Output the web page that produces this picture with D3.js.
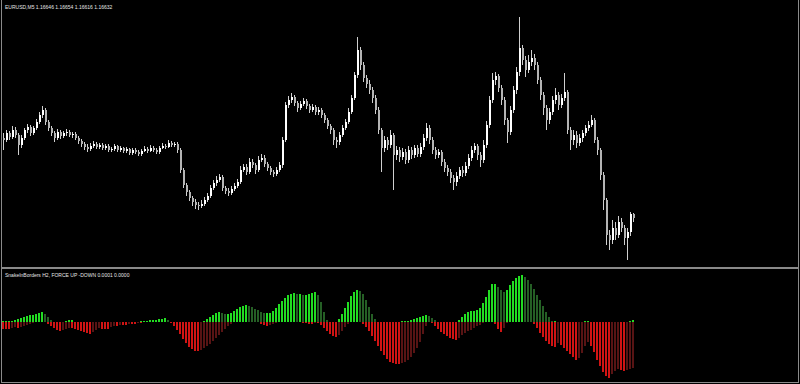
<!DOCTYPE html>
<html>
<head>
<meta charset="utf-8">
<script src="https://cdn.jsdelivr.net/npm/d3@7"></script>
<style>
  body { margin: 0; background: #000; }
</style>
</head>
<body>
<div id="chart"></div>
<script>
const symbolLabel = "EURUSD,M5  1.16646 1.16654 1.16616 1.16632";
const indicatorLabel = "SnakeInBorders H2, FORCE UP -DOWN  0.0001 0.0000";

// quotes are in points (0.00001) above basePrice
const basePrice = 1.16;
const firstOpen = 952;
const closePts = [
  944,972,956,984,964,924,952,984,996,972,
  992,1016,1044,1064,1016,992,972,952,976,960,
  972,976,964,968,952,940,928,916,908,920,
  928,916,924,912,920,904,908,920,904,912,
  900,908,892,904,896,888,900,908,900,912,
  904,896,912,920,916,932,924,928,904,824,
  764,736,712,696,684,680,688,704,720,752,
  772,784,796,752,740,732,748,760,776,824,
  836,816,856,844,824,864,872,848,832,816,
  808,824,844,944,1084,1104,1116,1092,1072,1088,
  1100,1080,1064,1076,1056,1064,1044,1024,1000,984,
  944,936,964,992,1016,1056,1112,1204,1304,1244,
  1192,1168,1144,1112,1064,984,912,944,924,964,
  884,904,876,896,864,904,884,912,888,916,
  952,992,944,904,884,896,856,832,816,792,
  776,800,824,812,840,872,904,920,884,864,
  924,1004,1104,1184,1200,1152,1104,1024,976,1064,
  1144,1216,1312,1264,1224,1256,1272,1244,1184,1124,
  1072,1024,1056,1104,1124,1084,1112,1136,984,944,
  964,932,952,972,992,1004,1024,944,904,804,
  704,564,544,592,564,616,592,552,576,648,
  632
];
const highPts = [
  972,984,980,1000,996,972,964,992,1008,1004,
  1000,1028,1056,1080,1072,1024,1000,980,988,984,
  980,988,984,976,976,960,948,936,928,932,
  940,936,932,932,928,928,916,928,924,920,
  916,916,912,912,912,904,908,920,916,924,
  920,912,920,932,928,944,940,936,936,912,
  832,772,744,720,708,696,704,716,732,764,
  784,800,808,804,760,752,760,772,788,840,
  848,848,872,868,852,880,888,884,856,840,
  824,836,856,956,1096,1120,1132,1124,1100,1100,
  1112,1108,1088,1088,1084,1076,1072,1052,1032,1008,
  992,956,976,1004,1028,1072,1124,1216,1356,1316,
  1256,1204,1184,1156,1124,1076,992,960,956,984,
  972,920,916,912,908,920,916,924,924,932,
  968,1012,1004,956,916,908,904,868,844,828,
  804,816,836,840,856,888,920,932,928,896,
  944,1020,1120,1212,1216,1208,1164,1116,1032,1080,
  1160,1236,1436,1324,1280,1284,1304,1288,1256,1196,
  1136,1084,1072,1120,1152,1136,1128,1212,1144,996,
  984,980,968,984,1004,1020,1044,1032,956,912,
  816,712,584,624,616,640,632,604,592,656,
  654
];
const lowPts = [
  904,936,944,948,952,884,912,944,972,960,
  964,984,1008,1032,1004,980,960,936,944,948,
  952,960,956,952,944,928,916,904,896,900,
  912,908,908,904,904,896,896,900,896,896,
  892,892,884,884,888,880,880,896,892,896,
  896,888,888,908,908,912,916,916,892,812,
  752,720,700,680,668,664,672,680,696,712,
  744,760,776,740,728,720,724,740,752,768,
  816,804,808,832,808,816,856,836,820,804,
  796,800,816,832,936,1072,1092,1080,1056,1064,
  1080,1068,1052,1056,1044,1044,1032,1012,988,968,
  924,912,924,956,984,1008,1048,1104,1192,1224,
  1176,1152,1128,1092,1048,968,816,896,904,912,
  744,864,856,864,848,852,868,872,876,876,
  904,940,928,888,868,872,840,816,800,772,
  744,760,788,796,800,828,860,892,864,836,
  852,912,992,1092,1164,1136,1084,1004,932,964,
  1052,1128,1200,1244,1196,1212,1240,1224,1168,1104,
  1044,984,1008,1044,1088,1064,1072,1100,968,904,
  924,912,920,936,960,980,996,932,884,784,
  664,524,504,528,544,552,576,524,464,560,
  616
];

// indicator buffers, in 0.00001 units
const forceUp = [
  1,1,1,1,2,3,4,5,6,7,
  7,8,9,10,8,5,2,0,0,0,
  0,1,2,2,0,0,0,0,0,0,
  0,0,0,0,0,0,0,0,0,0,
  0,0,0,0,0,0,1,1,1,2,
  2,2,3,3,4,2,0,0,0,0,
  0,0,0,0,0,0,0,1,3,5,
  7,9,10,9,8,8,9,11,13,15,
  16,17,16,15,13,12,10,9,9,9,
  11,14,18,21,24,27,28,29,28,28,
  27,27,28,29,30,27,20,10,2,0,
  0,0,3,8,14,20,26,30,32,31,
  28,22,15,8,3,0,0,0,0,0,
  0,0,0,1,1,1,2,3,4,5,
  6,7,6,4,2,0,0,0,0,0,
  0,0,2,5,8,10,11,11,12,14,
  19,25,32,38,38,35,32,30,32,37,
  41,44,46,47,45,42,38,33,27,22,
  16,10,5,1,1,0,0,0,0,0,
  0,0,0,0,1,1,0,0,0,0,
  0,0,0,0,0,0,0,0,0,1,
  2
];
const forceDown = [
  -7,-7,-7,-6,-5,-6,-5,-4,-3,-2,
  -1,0,0,0,0,-2,-4,-6,-8,-9,
  -8,-7,-6,-6,-7,-8,-9,-10,-11,-12,
  -10,-8,-6,-7,-7,-7,-5,-4,-4,-3,
  -3,-3,-2,-2,-2,-1,-1,0,0,0,
  0,0,0,0,0,0,-1,-4,-8,-12,
  -17,-21,-25,-27,-29,-29,-28,-26,-24,-22,
  -19,-16,-13,-10,-7,-4,-2,0,0,0,
  0,0,0,0,0,0,-2,-3,-4,-3,
  -2,-1,0,0,0,0,0,0,0,0,
  -1,-1,-2,-2,-1,-1,-3,-6,-9,-12,
  -14,-15,-13,-9,-5,-2,0,0,0,0,
  -2,-5,-9,-14,-19,-24,-29,-33,-37,-40,
  -41,-42,-42,-41,-40,-38,-35,-31,-26,-20,
  -12,-4,0,-1,-4,-7,-10,-12,-14,-16,
  -17,-18,-16,-13,-11,-9,-8,-6,-4,-3,
  -1,0,0,0,-2,-7,-10,-6,-1,0,
  0,0,0,0,0,0,0,-2,-6,-11,
  -15,-19,-22,-24,-25,-21,-23,-26,-29,-32,
  -35,-38,-36,-31,-24,-20,-24,-30,-38,-44,
  -50,-54,-56,-52,-49,-47,-48,-49,-48,-47,
  -46
];

const width = 800;
const height = 384;
const pricePane = { top: 17, bottom: 260 };
const forcePane = { top: 270, bottom: 380 };

const svg = d3.select("#chart")
  .append("svg")
  .attr("width", width)
  .attr("height", height)
  .style("display", "block")
  .style("background", "#000");

const n = closePts.length;
const toPrice = p => basePrice + p / 1e5;

const bars = closePts.map((c, i) => ({
  i,
  open: toPrice(i ? closePts[i - 1] : firstOpen),
  close: toPrice(c),
  high: toPrice(highPts[i]),
  low: toPrice(lowPts[i])
}));

const x = d3.scaleLinear()
  .domain([0, n - 1])
  .range([3, 633]);

const y = d3.scaleLinear()
  .domain([d3.min(bars, d => d.low), d3.max(bars, d => d.high)])
  .range([pricePane.bottom, pricePane.top]);

const yf = d3.scaleLinear()
  .domain([-58, 52])
  .range([forcePane.bottom, forcePane.top]);

// price candles
const candles = svg.append("g").attr("shape-rendering", "crispEdges");

candles.selectAll("line")
  .data(bars)
  .join("line")
  .attr("x1", d => Math.round(x(d.i)) + 0.5)
  .attr("x2", d => Math.round(x(d.i)) + 0.5)
  .attr("y1", d => y(d.high))
  .attr("y2", d => y(d.low))
  .attr("stroke", "#cfcfcf")
  .attr("stroke-width", 1);

candles.selectAll("rect")
  .data(bars)
  .join("rect")
  .attr("x", d => Math.round(x(d.i)))
  .attr("width", 2)
  .attr("y", d => y(Math.max(d.open, d.close)))
  .attr("height", d => Math.max(1, Math.abs(y(d.open) - y(d.close))))
  .attr("fill", d => d.close >= d.open ? "#ffffff" : "#b4b4b4");

// force histogram: bright while the force grows, dark while it fades
function histogram(values, bright, dark) {
  const cells = values.map((v, i) => ({
    i, v,
    grow: i === 0 || Math.abs(v) >= Math.abs(values[i - 1])
  })).filter(d => d.v !== 0);

  svg.append("g")
    .attr("shape-rendering", "crispEdges")
    .selectAll("rect")
    .data(cells)
    .join("rect")
    .attr("x", d => Math.round(x(d.i)) - 1)
    .attr("width", 2)
    .attr("y", d => Math.min(yf(0), yf(d.v)))
    .attr("height", d => Math.abs(yf(d.v) - yf(0)))
    .attr("fill", d => d.grow ? bright : dark);
}

histogram(forceUp, "#22dd22", "#255f25");
histogram(forceDown, "#d01414", "#581414");

// frame and pane separator
const frame = svg.append("g").attr("shape-rendering", "crispEdges");
frame.append("line").attr("x1", 1.5).attr("x2", 1.5).attr("y1", 0).attr("y2", 383).attr("stroke", "#8a8a8a");
frame.append("line").attr("x1", 798.5).attr("x2", 798.5).attr("y1", 0).attr("y2", 383).attr("stroke", "#8a8a8a");
frame.append("rect").attr("x", 1).attr("y", 267).attr("width", 798).attr("height", 2).attr("fill", "#8a8a8a");
frame.append("line").attr("x1", 1).attr("x2", 799).attr("y1", 382.5).attr("y2", 382.5).attr("stroke", "#8a8a8a");

// labels
svg.append("text")
  .attr("x", 5)
  .attr("y", 9)
  .attr("fill", "#e6e6e6")
  .attr("font-family", "Liberation Sans, Arial, sans-serif")
  .attr("font-size", "5px")
  .text(symbolLabel);

svg.append("text")
  .attr("x", 5)
  .attr("y", 277)
  .attr("fill", "#e6e6e6")
  .attr("font-family", "Liberation Sans, Arial, sans-serif")
  .attr("font-size", "5px")
  .text(indicatorLabel);
</script>
</body>
</html>
